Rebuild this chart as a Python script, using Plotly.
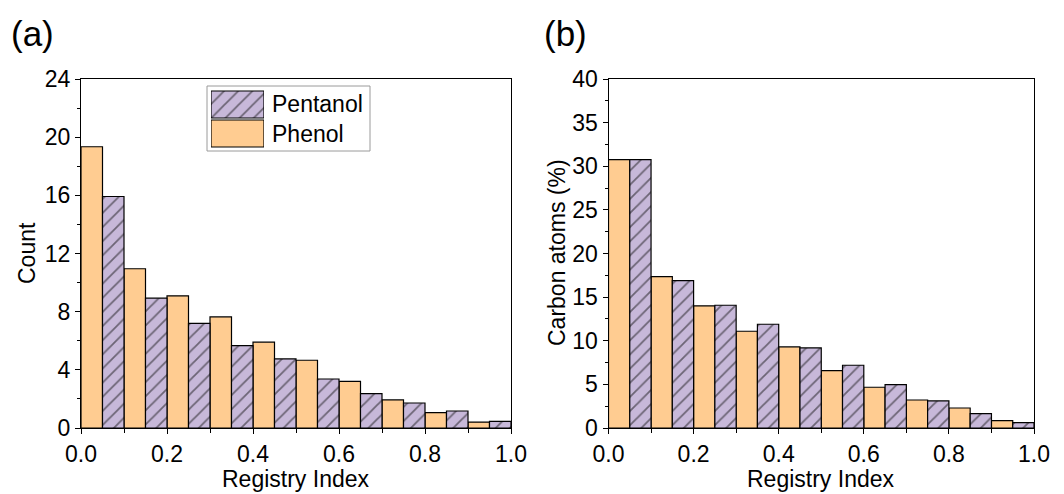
import plotly.graph_objects as go

W, H = 1064, 494

# ---- data ----
bin_width = 0.05
phenol_x = [0.025, 0.125, 0.225, 0.325, 0.425, 0.525, 0.625, 0.725, 0.825, 0.925]
pentanol_x = [0.075, 0.175, 0.275, 0.375, 0.475, 0.575, 0.675, 0.775, 0.875, 0.975]

count_phenol = [19.34, 10.95, 9.09, 7.64, 5.90, 4.66, 3.21, 1.93, 1.06, 0.41]
count_pentanol = [15.92, 8.93, 7.20, 5.67, 4.75, 3.37, 2.36, 1.72, 1.17, 0.46]

carbon_phenol = [30.75, 17.36, 14.0, 11.09, 9.29, 6.58, 4.67, 3.21, 2.29, 0.84]
carbon_pentanol = [30.75, 16.9, 14.07, 11.89, 9.18, 7.19, 4.97, 3.10, 1.64, 0.61]

x_ticks = [0.0, 0.2, 0.4, 0.6, 0.8, 1.0]
count_ticks = [0, 4, 8, 12, 16, 20, 24]
carbon_ticks = [0, 5, 10, 15, 20, 25, 30, 35, 40]

# ---- style ----
FONT = "Liberation Sans"
ORANGE = "#FFCC91"
PURPLE = "#C7B8D9"
HATCH = dict(shape="/", size=10, solidity=0.18, fgcolor="#111111", bgcolor=PURPLE)
OUTLINE = dict(color="black", width=1.2)


def px(x):
    return x / W


def py(y):
    return 1 - y / H


fig = go.Figure()

# Panel (a)
fig.add_trace(go.Bar(x=phenol_x, y=count_phenol, width=bin_width, name="Phenol",
                     marker=dict(color=ORANGE, line=OUTLINE), xaxis="x", yaxis="y", showlegend=False))
fig.add_trace(go.Bar(x=pentanol_x, y=count_pentanol, width=bin_width, name="Pentanol",
                     marker=dict(color=PURPLE, pattern=HATCH, line=OUTLINE), xaxis="x", yaxis="y", showlegend=False))
# Panel (b)
fig.add_trace(go.Bar(x=phenol_x, y=carbon_phenol, width=bin_width, name="Phenol",
                     marker=dict(color=ORANGE, line=OUTLINE), xaxis="x2", yaxis="y2", showlegend=False))
fig.add_trace(go.Bar(x=pentanol_x, y=carbon_pentanol, width=bin_width, name="Pentanol",
                     marker=dict(color=PURPLE, pattern=HATCH, line=OUTLINE), xaxis="x2", yaxis="y2", showlegend=False))

# Legend swatches (own hidden axes)
fig.add_trace(go.Bar(y=[0], x=[1], base=[0], orientation="h", width=0.93,
                     marker=dict(color=ORANGE, line=OUTLINE), xaxis="x3", yaxis="y3",
                     showlegend=False, hoverinfo="skip"))
fig.add_trace(go.Bar(y=[1], x=[1], base=[0], orientation="h", width=0.93,
                     marker=dict(color=PURPLE, pattern=HATCH, line=OUTLINE), xaxis="x3", yaxis="y3",
                     showlegend=False, hoverinfo="skip"))

ydom = [py(428), py(79)]
xdom1 = [px(81), px(511)]
xdom2 = [px(608.5), px(1034)]

common_x = dict(range=[0, 1], tickvals=x_ticks, tickformat=".1f", ticks="outside", ticklen=5,
                tickwidth=1, tickcolor="black", showline=True, linecolor="black", linewidth=1,
                mirror=True, showgrid=False, zeroline=False, automargin=False,
                tickfont=dict(family=FONT, size=23, color="black"),
                minor=dict(ticks="outside", ticklen=4, tickwidth=1, tickcolor="black", dtick=0.1, showgrid=False))
common_y = dict(ticks="outside", ticklen=5, tickwidth=1, tickcolor="black", showline=True,
                linecolor="black", linewidth=1, mirror=True, showgrid=False, zeroline=False,
                automargin=False, tickfont=dict(family=FONT, size=23, color="black"))

fig.update_layout(
    width=W, height=H, margin=dict(l=0, r=0, t=0, b=0, autoexpand=False),
    paper_bgcolor="white", plot_bgcolor="white", barmode="overlay",
    font=dict(family=FONT, color="black"),
    xaxis=dict(domain=xdom1, anchor="y", **common_x),
    yaxis=dict(domain=ydom, anchor="x", range=[0, 24], tickvals=count_ticks,
               minor=dict(ticks="outside", ticklen=3, tickwidth=1, tickcolor="black", dtick=2, showgrid=False),
               **common_y),
    xaxis2=dict(domain=xdom2, anchor="y2", **common_x),
    yaxis2=dict(domain=ydom, anchor="x2", range=[0, 40], tickvals=carbon_ticks,
                minor=dict(ticks="outside", ticklen=3, tickwidth=1, tickcolor="black", dtick=2.5, showgrid=False),
                **common_y),
    xaxis3=dict(domain=[px(211), px(264)], anchor="y3", range=[0, 1], visible=False, fixedrange=True,
                automargin=False),
    yaxis3=dict(domain=[py(148), py(90)], anchor="x3", range=[-0.5, 1.5], visible=False, fixedrange=True,
                automargin=False),
    showlegend=False,
)

# legend frame
fig.add_shape(type="rect", xref="paper", yref="paper", x0=px(207), x1=px(370), y0=py(151), y1=py(86),
              line=dict(color="#9a9a9a", width=1), fillcolor="rgba(0,0,0,0)", layer="below")

annotations = [
    dict(text="Pentanol", x=px(270), y=py(103.5)),
    dict(text="Phenol", x=px(270), y=py(134.5)),
]
for a in annotations:
    fig.add_annotation(xref="paper", yref="paper", xanchor="left", yanchor="middle", showarrow=False,
                       font=dict(family=FONT, size=23, color="black"), **a)

# panel labels
fig.add_annotation(text="(a)", x=px(9), y=py(34), xref="paper", yref="paper", xanchor="left",
                   yanchor="middle", showarrow=False, font=dict(family=FONT, size=35, color="black"))
fig.add_annotation(text="(b)", x=px(542), y=py(34), xref="paper", yref="paper", xanchor="left",
                   yanchor="middle", showarrow=False, font=dict(family=FONT, size=35, color="black"))

# axis titles
titles = [
    dict(text="Count", x=px(27), y=py(253), textangle=-90, yanchor="middle"),
    dict(text="Carbon atoms (%)", x=px(557), y=py(253), textangle=-90, yanchor="middle"),
    dict(text="Registry Index", x=px(296), y=py(494), textangle=0, yanchor="bottom"),
    dict(text="Registry Index", x=px(821), y=py(494), textangle=0, yanchor="bottom"),
]
for t in titles:
    fig.add_annotation(xref="paper", yref="paper", xanchor="center", showarrow=False,
                       font=dict(family=FONT, size=23, color="black"), **t)

fig.write_html("out.html")
